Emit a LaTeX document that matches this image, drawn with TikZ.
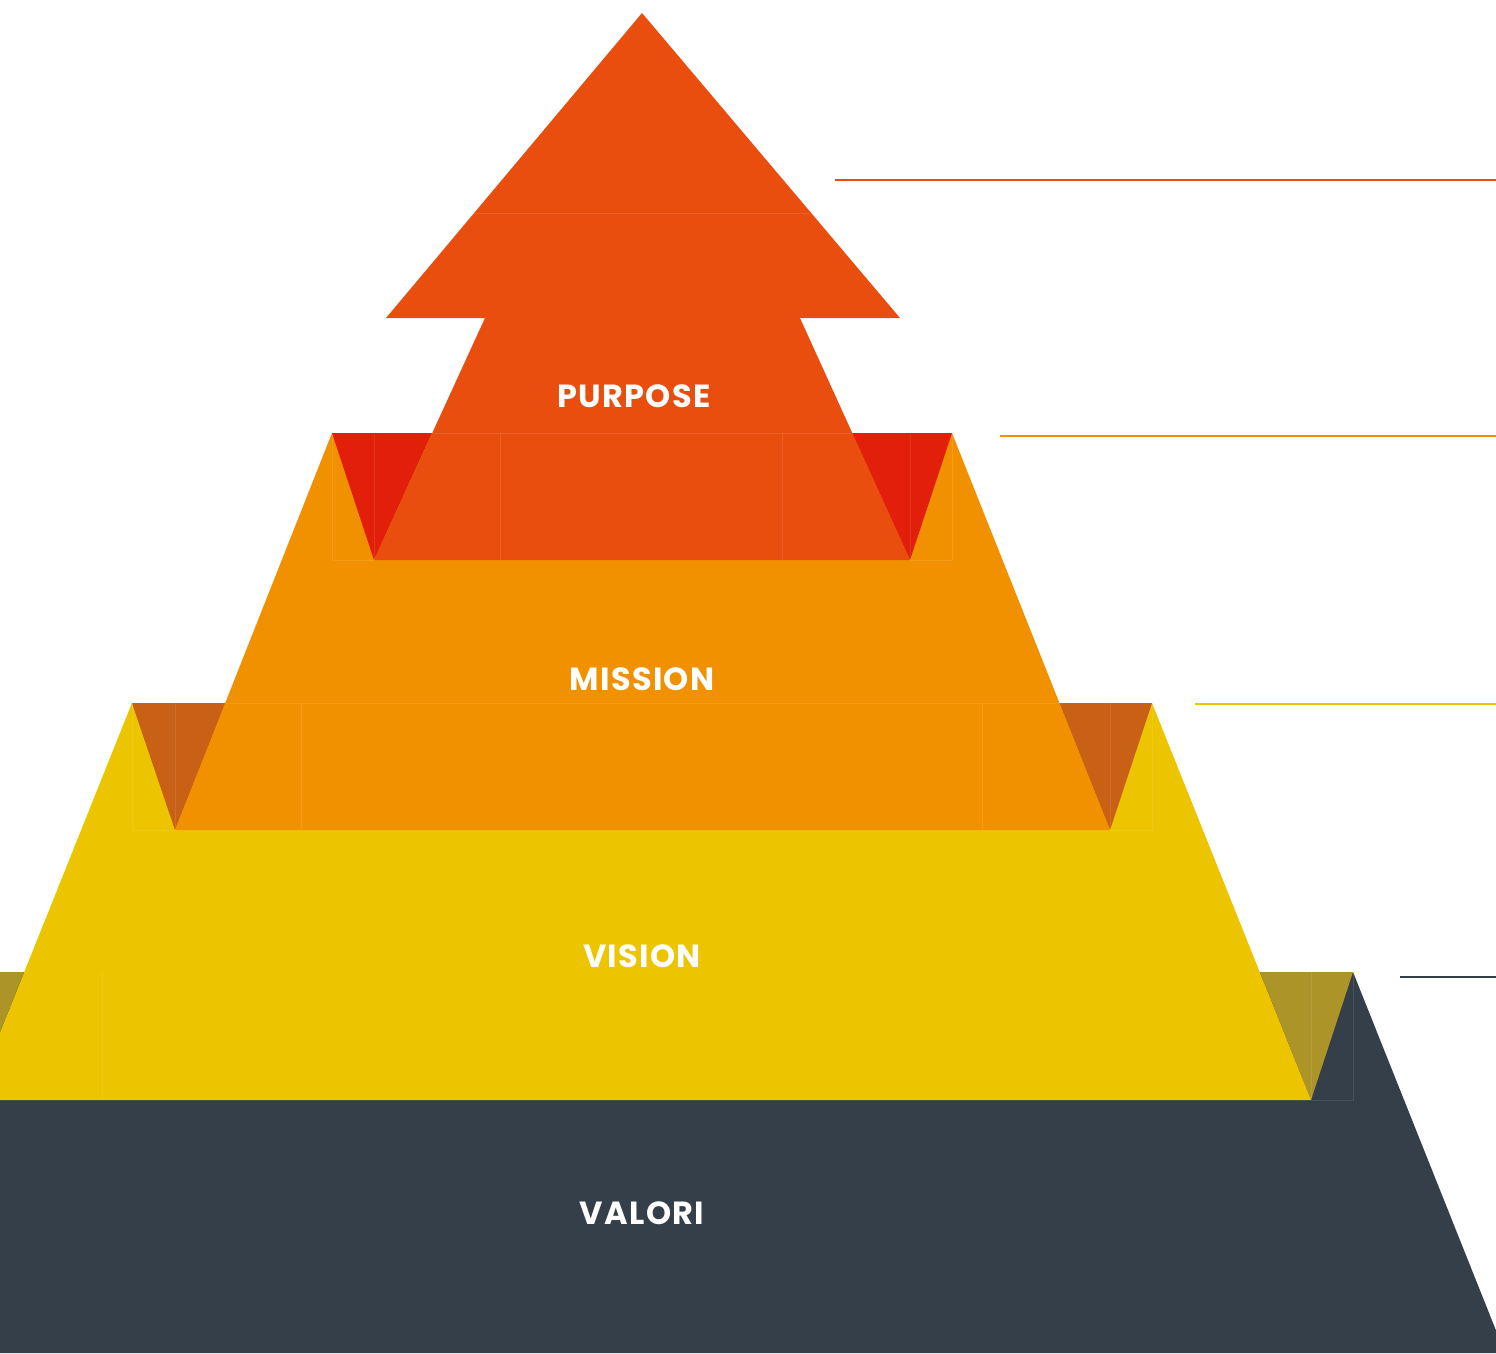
\documentclass[tikz,border=0pt]{standalone}
\usepackage{fontspec}
\newfontfamily\labelfont{Poppins}[LetterSpace=4]
\definecolor{purposecol}{RGB}{233,78,15}
\definecolor{purposetri}{RGB}{226,31,11}
\definecolor{missioncol}{RGB}{242,145,0}
\definecolor{missiontri}{RGB}{200,96,21}
\definecolor{visioncol}{RGB}{236,197,0}
\definecolor{visiontri}{RGB}{173,148,41}
\definecolor{valoricol}{RGB}{53,63,73}
\tikzset{
  seam/.style={draw=white, draw opacity=0.10, line width=0.8pt},
  lbl/.style={text=white, font=\labelfont\bfseries\fontsize{32}{32}\selectfont},
  rule/.style={line width=2pt}
}

\begin{document}
\begin{tikzpicture}[x=1pt,y=-1pt]
        \useasboundingbox (0,0) rectangle (1496,1353);
        \clip (0,0) rectangle (1496,1353);
        % valori
        \coordinate (V1) at (-69, 972);
        \coordinate (V2) at (1353, 972);
        \coordinate (V3) at (1505, 1353);
        \coordinate (V4) at (-221, 1353);
        \fill[valoricol] (V1)--(V2)--(V3)--(V4)--cycle;
        \fill[visiontri] (V1)--(24,972)--(-27,1100)--cycle;
        \fill[visiontri] (1260,972)--(V2)--(1311,1100)--cycle;
        % vision
        \coordinate (S1) at (132, 703);
        \coordinate (S2) at (1152, 703);
        \coordinate (S3) at (1311, 1100);
        \coordinate (S4) at (-27, 1100);
        \fill[visioncol] (S1)--(S2)--(S3)--(S4)--cycle;
        \fill[missiontri] (S1)--(226,703)--(175,830)--cycle;
        \fill[missiontri] (1059,703)--(S2)--(1110,830)--cycle;
        % mission
        \coordinate (M1) at (332, 433);
        \coordinate (M2) at (952, 433);
        \coordinate (M3) at (1110, 830);
        \coordinate (M4) at (175, 830);
        \fill[missioncol] (M1)--(M2)--(M3)--(M4)--cycle;
        \fill[purposetri] (M1)--(432,433)--(374,560)--cycle;
        \fill[purposetri] (852,433)--(M2)--(910,560)--cycle;
        % purpose
        \coordinate (P1) at (485, 318);
        \coordinate (P2) at (800, 318);
        \coordinate (P3) at (910, 560);
        \coordinate (P4) at (374, 560);
        \fill[purposecol] (P1)--(P2)--(P3)--(P4)--cycle;
        \coordinate (A) at (642, 13);
        \coordinate (B) at (900, 318);
        \coordinate (C) at (386, 318);
        \fill[purposecol] (A)--(B)--(C)--cycle;
        % seams
        \draw[seam] (474,213)--(810,213);
        \draw[seam] (432,433)--(852,433);
        \draw[seam] (332,433)--(332,560)--(374,560)--(374,433);
        \draw[seam] (500,433)--(500,560) (782,433)--(782,560);
        \draw[seam] (910,433)--(910,560)--(952,560)--(952,433);
        \draw[seam] (226,703)--(1059,703);
        \draw[seam] (132,703)--(132,830)--(175,830)--(175,703);
        \draw[seam] (301,703)--(301,830) (982,703)--(982,830);
        \draw[seam] (1110,703)--(1110,830)--(1152,830)--(1152,703);
        \draw[seam] (102,972)--(102,1100);
        \draw[seam] (1311,972)--(1311,1100)--(1353,1100)--(1353,972);
        % labels
        \node[lbl] (purpose) at (634, 396) {PURPOSE};
        \node[lbl] (mission) at (642, 679) {MISSION};
        \node[lbl] (vision) at (642, 956) {VISION};
        \node[lbl] (valori) at (642, 1213) {VALORI};
        % rules
        \coordinate (r1a) at (835, 180);
        \coordinate (r1b) at (1496, 180);
        \coordinate (r2a) at (1000, 436);
        \coordinate (r2b) at (1496, 436);
        \coordinate (r3a) at (1195, 704);
        \coordinate (r3b) at (1496, 704);
        \coordinate (r4a) at (1400, 977);
        \coordinate (r4b) at (1496, 977);
        \draw[rule, purposecol] (r1a)--(r1b);
        \draw[rule, missioncol] (r2a)--(r2b);
        \draw[rule, visioncol] (r3a)--(r3b);
        \draw[rule, valoricol] (r4a)--(r4b);
\end{tikzpicture}
\end{document}
